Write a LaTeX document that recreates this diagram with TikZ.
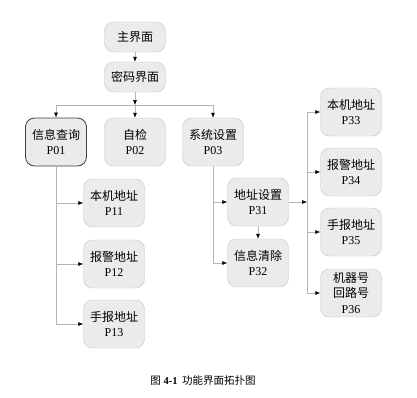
\documentclass[tikz,border=0pt]{standalone}
\usepackage{fontspec}
\setmainfont{Liberation Serif}
\newfontfamily\cjk{Noto Sans CJK SC}
\usetikzlibrary{arrows.meta,positioning}

\definecolor{boxfill}{HTML}{EBEBEB}
\definecolor{boxline}{HTML}{C4C4C4}
\definecolor{wire}{HTML}{B4B4B4}

\tikzset{
  page/.style={draw=boxline,fill=boxfill,rounded corners=9pt,align=center,
    minimum width=61pt,minimum height=48pt,inner sep=1pt,
    font=\fontsize{12}{15.5}\selectfont},
  toppage/.style={page,minimum height=30pt},
  current/.style={draw=black!75,line width=0.8pt},
  link/.style={draw=wire,line width=0.6pt},
  arr/.style={link,-{Latex[length=5pt,width=4pt,color=black]}}
}

\begin{document}
\begin{tikzpicture}[x=1pt,y=-1pt]
\useasboundingbox (0,0) rectangle (417,397);
% entry screens
\node[toppage] (main) at (135,37) {\cjk 主界面};
\node[toppage] (pwd) at (135,77) {\cjk 密码界面};
% first level
\node[page,current] (p01) at (56,142) {{\cjk 信息查询}\\P01};
\node[page] (p02) at (135,142) {{\cjk 自检}\\P02};
\node[page] (p03) at (213,142) {{\cjk 系统设置}\\P03};
% under P01
\node[page] (p11) at (114,203) {{\cjk 本机地址}\\P11};
\node[page] (p12) at (114,264) {{\cjk 报警地址}\\P12};
\node[page] (p13) at (114,324) {{\cjk 手报地址}\\P13};
% under P03
\node[page] (p31) at (258,202) {{\cjk 地址设置}\\P31};
\node[page] (p32) at (258,263) {{\cjk 信息清除}\\P32};
% under P31
\node[page] (p33) at (351,112) {{\cjk 本机地址}\\P33};
\node[page] (p34) at (351,172) {{\cjk 报警地址}\\P34};
\node[page] (p35) at (351,232) {{\cjk 手报地址}\\P35};
\node[page] (p36) at (351,293) {{\cjk 机器号}\\{\cjk 回路号}\\P36};
% bus points
\coordinate (busA) at (135,105);
\coordinate (busB) at (307,202);
% connectors
\draw[arr] (main) -- (pwd);
\draw[arr] (pwd) -- (busA);
\draw[arr] (busA) -- (p02);
\draw[arr] (busA) -| (p01);
\draw[arr] (busA) -| (p03);
\foreach \n in {p11,p12,p13} {
  \draw[arr] (p01.south) |- (\n.west);
}
\draw[arr] (p03.south) |- (p31.west);
\draw[arr] (p03.south) |- (p32.west);
\draw[arr] (p31) -- (p32);
\draw[arr] (p31) -- (busB);
\foreach \n in {p33,p34,p35,p36} {
  \draw[arr] (busB) |- (\n.west);
}
% caption
\node[font=\fontsize{10.5}{12}\selectfont] (cap) at (203,381) {{\cjk 图} \textbf{4-1}\hspace{2pt} {\cjk 功能界面拓扑图}};
\end{tikzpicture}
\end{document}
